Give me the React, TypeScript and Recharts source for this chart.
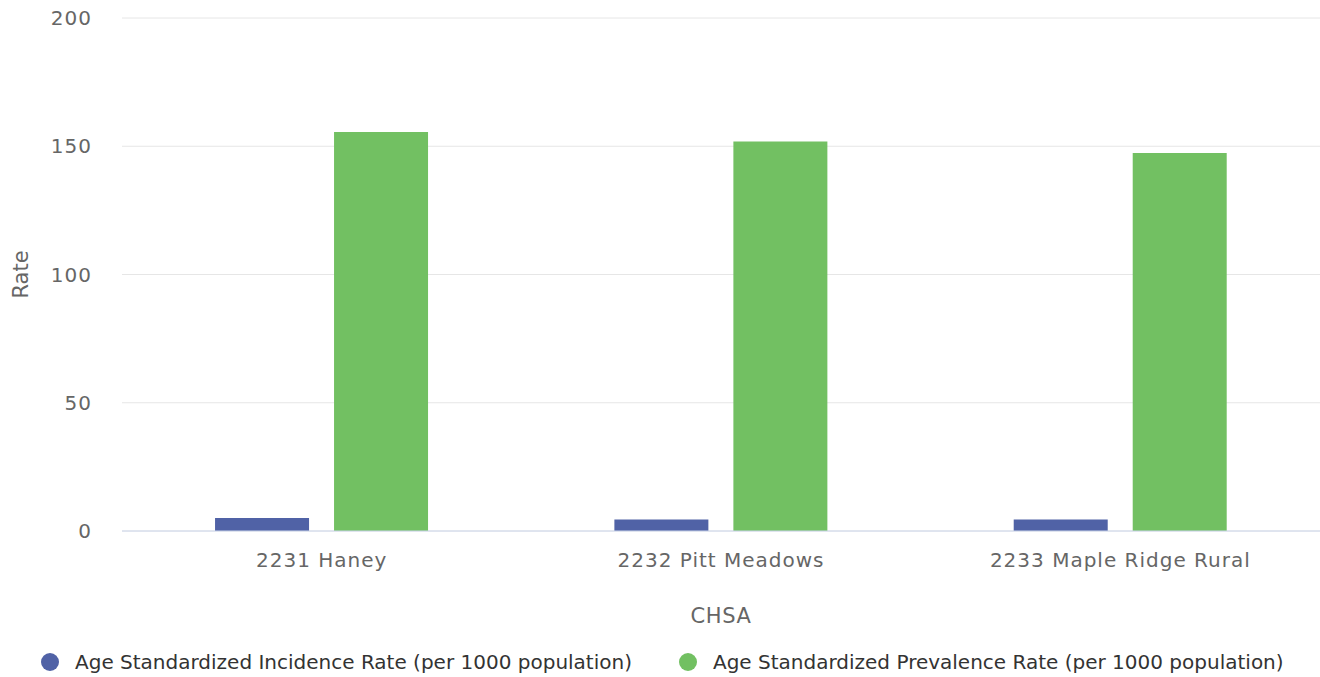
import React from 'react';
import { BarChart, Bar, XAxis, YAxis, CartesianGrid, Legend } from 'recharts';

const categories = ['2231 Haney', '2232 Pitt Meadows', '2233 Maple Ridge Rural'];
const incidenceRate = [5.1, 4.5, 4.5];
const prevalenceRate = [155.6, 151.9, 147.4];
const yTicks = [0, 50, 100, 150, 200];
const seriesNames = [
  'Age Standardized Incidence Rate (per 1000 population)',
  'Age Standardized Prevalence Rate (per 1000 population)',
];
const seriesColors = ['#5062a6', '#72c062'];

const data = categories.map((c, i) => ({
  chsa: c,
  incidence: incidenceRate[i],
  prevalence: prevalenceRate[i],
}));

const FONT = 'DejaVu Sans';

const LegendContent = (props: any) => {
  const payload = props.payload || [];
  return (
    <div style={{ display: 'flex', alignItems: 'center', height: 30, paddingTop: 20, paddingLeft: 41, fontFamily: FONT }}>
      {payload.map((p: any, i: number) => (
        <div key={i} style={{ display: 'flex', alignItems: 'center', marginRight: 47 }}>
          <span style={{ width: 18, height: 18, borderRadius: 9, background: p.color, display: 'inline-block', marginRight: 16 }} />
          <span style={{ fontSize: 20, color: '#333', whiteSpace: 'nowrap' }}>{p.value}</span>
        </div>
      ))}
    </div>
  );
};

export default function App() {
  return (
    <div style={{ position: 'absolute', left: 0, top: 0, width: 1320, height: 677, background: '#fff' }}>
      <BarChart
        width={1320}
        height={677}
        data={data}
        margin={{ top: 18, right: 0, bottom: 0, left: 0 }}
        barCategoryGap="23.3%"
        barGap={25}
        style={{ fontFamily: FONT }}
      >
        <CartesianGrid vertical={false} stroke="#e6e6e6" />
        <XAxis
          dataKey="chsa"
          height={96}
          tickLine={false}
          axisLine={{ stroke: '#ccd6eb' }}
          tickSize={0}
          tickMargin={22}
          tick={{ fontSize: 20, fill: '#666', fontFamily: FONT, letterSpacing: 1 }}
          label={(lp: any) => {
            const vb = lp.viewBox;
            return (
              <text x={vb.x + vb.width / 2} y={623} textAnchor="middle" fontSize={21} fill="#666" fontFamily={FONT} letterSpacing={0.6}>
                CHSA
              </text>
            );
          }}
        />
        <YAxis
          width={122}
          domain={[0, 200]}
          ticks={yTicks}
          tickLine={false}
          axisLine={false}
          tickSize={0}
          tickMargin={30}
          tick={{ fontSize: 20, fill: '#666', fontFamily: FONT, letterSpacing: 1 }}
          label={(lp: any) => {
            const vb = lp.viewBox;
            const cy = vb.y + vb.height / 2;
            return (
              <text x={28} y={cy} textAnchor="middle" fontSize={21} fill="#666" fontFamily={FONT} transform={`rotate(-90 28 ${cy})`}>
                Rate
              </text>
            );
          }}
        />
        <Legend verticalAlign="bottom" content={LegendContent} wrapperStyle={{ height: 50, left: 0, bottom: 0 }} />
        <Bar dataKey="incidence" name={seriesNames[0]} fill={seriesColors[0]} isAnimationActive={false} />
        <Bar dataKey="prevalence" name={seriesNames[1]} fill={seriesColors[1]} isAnimationActive={false} />
      </BarChart>
    </div>
  );
}
